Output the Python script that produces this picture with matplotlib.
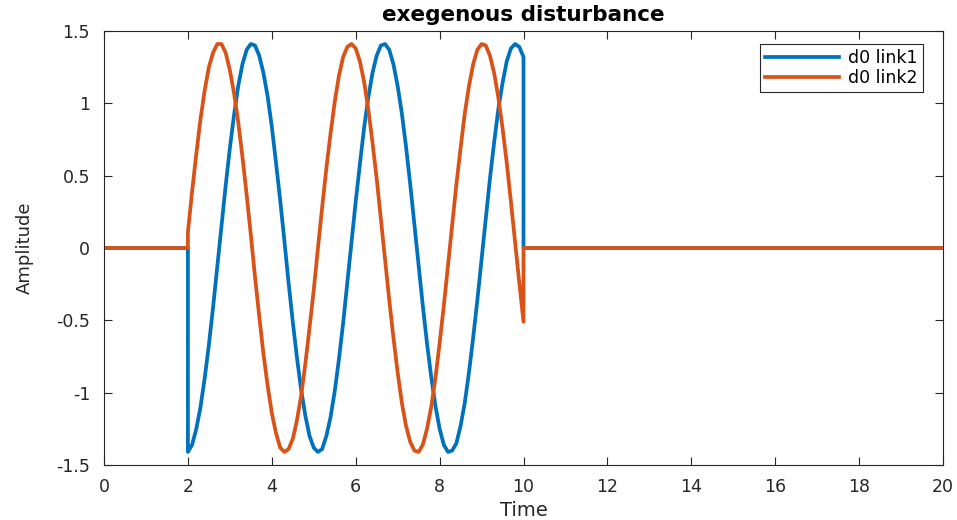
import matplotlib
matplotlib.use("Agg")
import matplotlib.pyplot as plt
import numpy as np

plt.rcParams['font.family'] = ['DejaVu Sans']

t_on = [2.0 + 0.1 * k for k in range(81)]
link1_on = [-1.41, -1.36, -1.25, -1.10, -0.90, -0.67, -0.41, -0.13, 0.15, 0.43,
            0.69, 0.92, 1.12, 1.27, 1.37, 1.41, 1.40, 1.33, 1.21, 1.05,
            0.84, 0.59, 0.33, 0.05, -0.24, -0.51, -0.76, -0.98, -1.16, -1.30,
            -1.38, -1.41, -1.39, -1.30, -1.17, -0.99, -0.77, -0.52, -0.24, 0.04,
            0.32, 0.58, 0.83, 1.04, 1.21, 1.33, 1.40, 1.41, 1.37, 1.27,
            1.12, 0.93, 0.70, 0.44, 0.16, -0.12, -0.40, -0.66, -0.89, -1.09,
            -1.25, -1.36, -1.41, -1.40, -1.35, -1.23, -1.07, -0.86, -0.62, -0.36,
            -0.08, 0.20, 0.48, 0.73, 0.96, 1.14, 1.29, 1.38, 1.41, 1.39,
            1.32]
link2_on = [0.11, 0.39, 0.65, 0.89, 1.09, 1.25, 1.35, 1.41, 1.41, 1.35,
            1.23, 1.07, 0.87, 0.63, 0.37, 0.09, -0.20, -0.47, -0.73, -0.95,
            -1.14, -1.28, -1.38, -1.41, -1.39, -1.32, -1.19, -1.02, -0.80, -0.55,
            -0.29, 0.00, 0.28, 0.55, 0.79, 1.01, 1.19, 1.32, 1.39, 1.41,
            1.38, 1.29, 1.15, 0.96, 0.73, 0.48, 0.20, -0.08, -0.36, -0.62,
            -0.86, -1.07, -1.23, -1.34, -1.40, -1.41, -1.36, -1.25, -1.10, -0.90,
            -0.66, -0.40, -0.12, 0.16, 0.44, 0.69, 0.93, 1.12, 1.27, 1.37,
            1.41, 1.40, 1.33, 1.21, 1.04, 0.83, 0.59, 0.32, 0.04, -0.24,
            -0.51]
# zero before t=2 and after t=10
t_all = [0.0, 2.0] + t_on + [10.0, 20.0]
link1 = [0.0, 0.0] + link1_on + [0.0, 0.0]
link2 = [0.0, 0.0] + link2_on + [0.0, 0.0]

x_ticks = [0, 2, 4, 6, 8, 10, 12, 14, 16, 18, 20]
y_ticks = [-1.5, -1, -0.5, 0, 0.5, 1, 1.5]
y_labels = ['-1.5', '-1', '-0.5', '0', '0.5', '1', '1.5']

fig = plt.figure(figsize=(9.57, 5.2), dpi=100)
ax = fig.add_axes([104 / 957, 1 - 465 / 520, 839 / 957, 434 / 520])

ax.plot(t_all, link1, color='#0072BD', lw=2.7, label='d0 link1')
ax.plot(t_all, link2, color='#D95319', lw=2.7, label='d0 link2')

ax.set_xlim(0, 20)
ax.set_ylim(-1.5, 1.5)
ax.set_xticks(x_ticks)
ax.set_yticks(y_ticks)
ax.set_yticklabels(y_labels)
ax.tick_params(direction='in', length=6, width=0.8, top=True, right=True,
               labelsize=12.5, colors='#262626')
ax.tick_params(axis='x', pad=9)
ax.tick_params(axis='y', pad=10)
for s in ax.spines.values():
    s.set_color('#262626')
    s.set_linewidth(0.8)

ax.set_title('exegenous disturbance', fontsize=15.5, fontweight='bold', pad=7)
ax.set_xlabel('Time', fontsize=14, color='#262626', labelpad=4)
ax.set_ylabel('Amplitude', fontsize=13, color='#262626', labelpad=16)

leg = ax.legend(loc='upper right', bbox_to_anchor=(0.976, 0.970), borderaxespad=0,
                fontsize=12.5, fancybox=False, framealpha=1, handlelength=4.3,
                labelspacing=0.1, borderpad=0.3, handletextpad=0.5)
leg.get_frame().set_edgecolor('#262626')
leg.get_frame().set_linewidth(0.8)

fig.savefig('out.png', dpi=100)
